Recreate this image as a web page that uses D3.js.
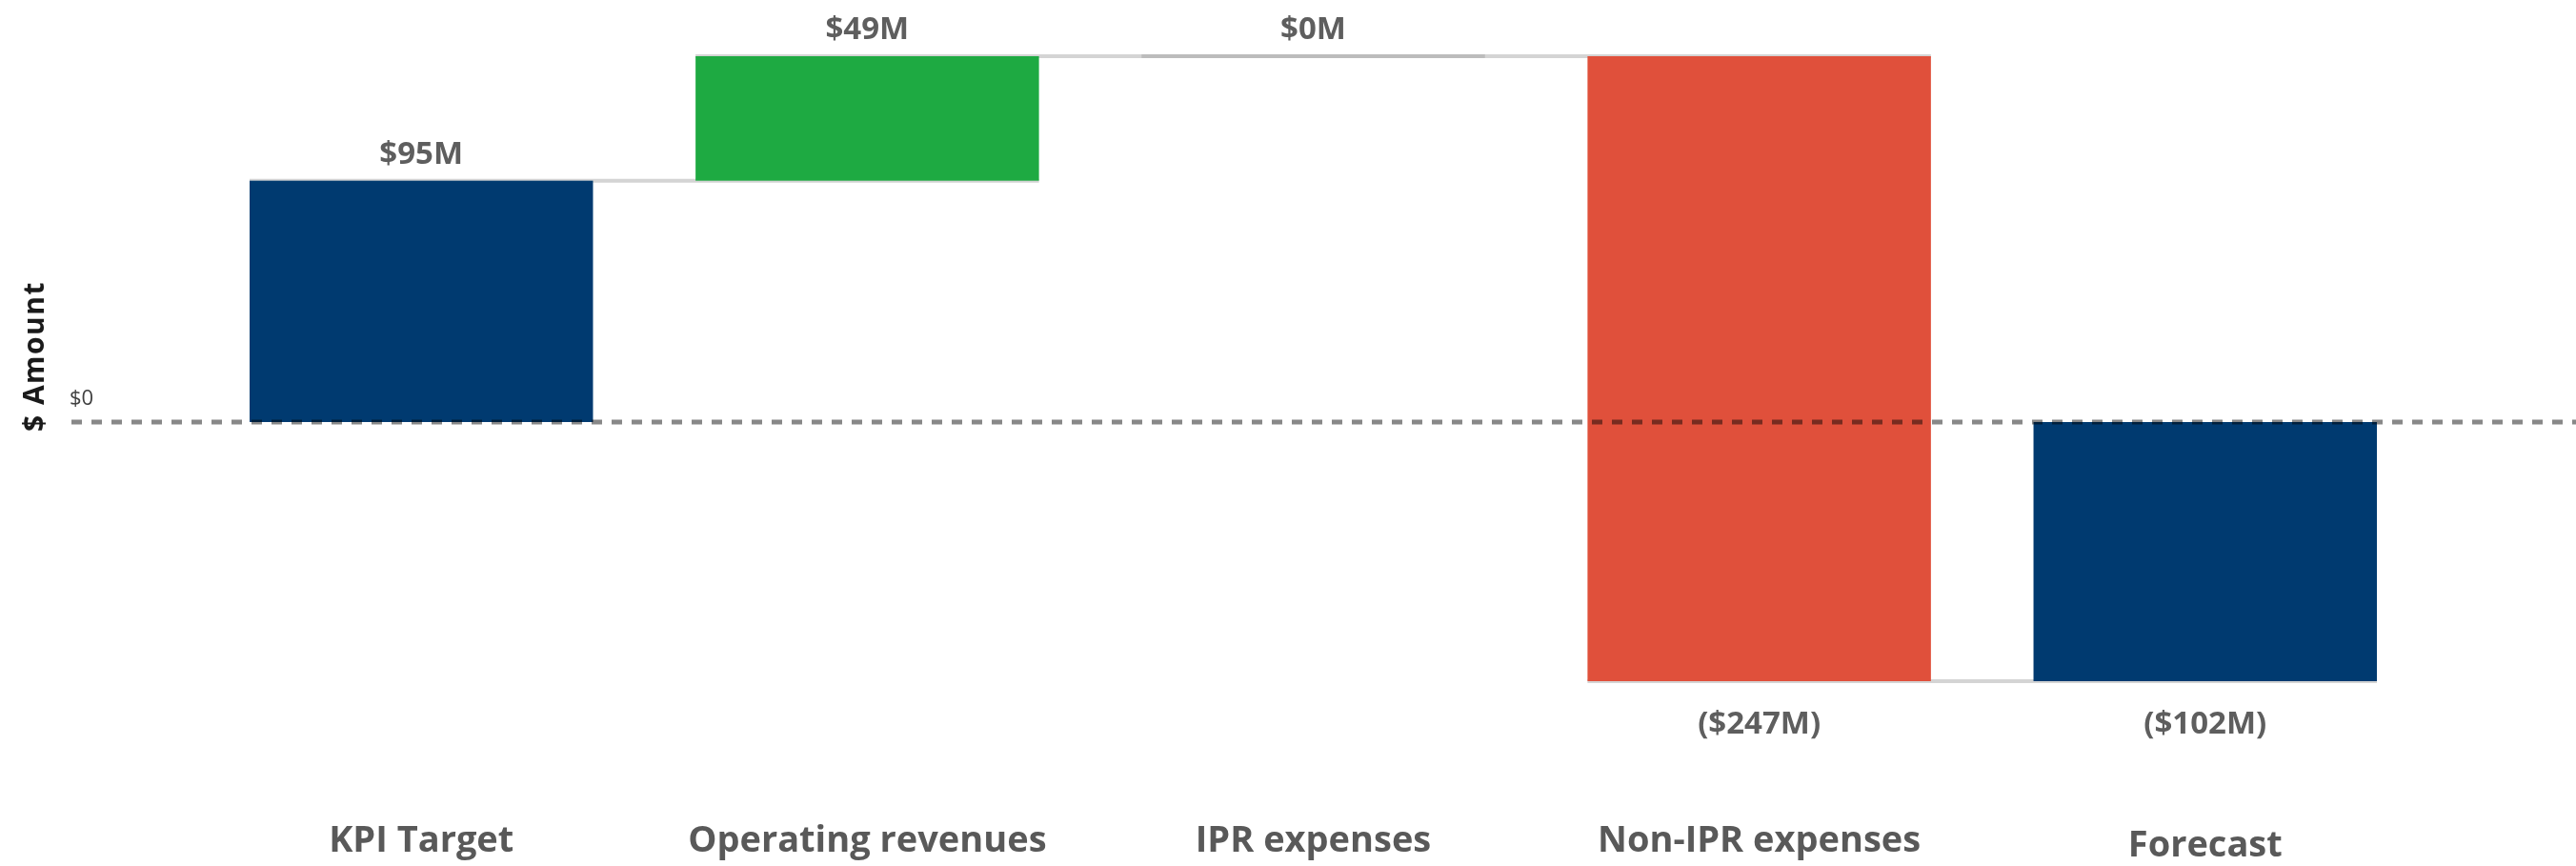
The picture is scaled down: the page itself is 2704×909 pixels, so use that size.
<!DOCTYPE html>
<meta charset="utf-8">
<style>
    body { margin: 0; background: #fff; }
    text { font-family: "Open Sans", "Noto Sans", sans-serif; }
    .cat { font-size: 38px; font-weight: 700; fill: #595959; }
    .val { font-size: 33px; font-weight: 700; fill: #5e5e5e; }
</style>
<svg width="2704" height="909"></svg>
<script src="https://d3js.org/d3.v7.min.js"></script>
<script>

    // waterfall steps, $M
    var categories = ["KPI Target", "Operating revenues", "IPR expenses", "Non-IPR expenses", "Forecast"];
    var amounts = [95, 49, 0, -246, -102];
    var kinds = ["total", "increase", "increase", "decrease", "total"];
    var valueLabels = ["$95M", "$49M", "$0M", "($247M)", "($102M)"];
    var colors = {total: "#003a70", increase: "#1eaa42", decrease: "#e0503b"};

    var svg = d3.select("svg"),
        width = +svg.attr("width"),
        height = +svg.attr("height");

    // build start / end for every step
    var running = 0;
    var steps = categories.map(function (c, i) {
        var s, e;
        if (kinds[i] == "total") {
            s = 0;
            e = amounts[i];
        } else {
            s = running;
            e = running + amounts[i];
        }
        running = e;
        return {name: c, start: s, end: e, kind: kinds[i], label: valueLabels[i]};
    });

    var x = d3.scaleBand()
        .domain(categories)
        .range([262, 2495])
        .paddingInner(0.23)
        .paddingOuter(0);

    var y = d3.scaleLinear()
        .domain([-102, 144])
        .range([715, 59]);

    var bw = x.bandwidth();

    // connectors between bars
    var conn = [];
    for (var i = 0; i < steps.length - 1; i++) {
        conn.push({a: steps[i].name, b: steps[i + 1].name, v: steps[i].end});
    }
    svg.append("g")
        .selectAll("line")
        .data(conn)
        .enter()
        .append("line")
        .attr("x1", function (d) { return x(d.a); })
        .attr("x2", function (d) { return x(d.b) + bw; })
        .attr("y1", function (d) { return y(d.v); })
        .attr("y2", function (d) { return y(d.v); })
        .attr("stroke", "#d4d4d4")
        .attr("stroke-width", 4);

    // bars
    svg.append("g")
        .selectAll("rect")
        .data(steps)
        .enter()
        .append("rect")
        .attr("x", function (d) { return x(d.name); })
        .attr("width", bw)
        .attr("y", function (d) { return y(Math.max(d.start, d.end)); })
        .attr("height", function (d) { return Math.abs(y(d.start) - y(d.end)); })
        .attr("fill", function (d) { return colors[d.kind]; });

    // zero-height steps show as a flat line
    svg.append("g")
        .selectAll("line")
        .data(steps.filter(function (d) { return d.start == d.end; }))
        .enter()
        .append("line")
        .attr("x1", function (d) { return x(d.name); })
        .attr("x2", function (d) { return x(d.name) + bw; })
        .attr("y1", function (d) { return y(d.end); })
        .attr("y2", function (d) { return y(d.end); })
        .attr("stroke", "#bcbcbc")
        .attr("stroke-width", 4);

    // value labels
    svg.append("g")
        .selectAll("text")
        .data(steps)
        .enter()
        .append("text")
        .attr("class", "val")
        .attr("text-anchor", "middle")
        .attr("x", function (d) { return x(d.name) + bw / 2; })
        .attr("y", function (d) {
            if (d.end < d.start || (d.kind == "total" && d.end < 0)) {
                return y(Math.min(d.start, d.end)) + 55;
            }
            return y(Math.max(d.start, d.end)) - 18;
        })
        .text(function (d) { return d.label; });

    // category labels
    svg.append("g")
        .selectAll("text")
        .data(categories)
        .enter()
        .append("text")
        .attr("class", "cat")
        .attr("text-anchor", "middle")
        .attr("x", function (d) { return x(d) + bw / 2; })
        .attr("y", function (d, i) { return i == categories.length - 1 ? 899 : 894; })
        .text(function (d) { return d; });

    // zero reference line
    svg.append("line")
        .attr("x1", 75)
        .attr("x2", width)
        .attr("y1", y(0))
        .attr("y2", y(0))
        .attr("stroke", "#888")
        .attr("stroke-width", 5)
        .attr("stroke-dasharray", "11,10")
        .style("mix-blend-mode", "multiply");

    svg.append("text")
        .attr("x", 73)
        .attr("y", y(0) - 18)
        .attr("fill", "#404040")
        .style("font-size", "22px")
        .text("$0");

    svg.append("text")
        .attr("transform", "translate(46," + 374 + ") rotate(-90)")
        .attr("text-anchor", "middle")
        .attr("fill", "#1a1a1a")
        .style("font-size", "30px")
        .style("font-weight", 700)
        .style("letter-spacing", "1.5px")
        .text("$ Amount");

</script>
